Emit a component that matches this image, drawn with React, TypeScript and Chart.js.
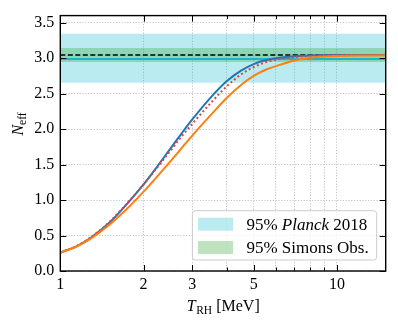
import React, { useEffect, useRef } from "react";
import { Chart, registerables } from "chart.js";

Chart.register(...registerables);

// ---- data ----
const T_RH = [1, 1.15, 1.3, 1.5, 1.75, 2, 2.25, 2.5, 2.75, 3, 3.5, 4, 4.5, 5, 5.5, 6, 7, 8, 9, 10, 12, 15];
const N_BLUE = [0.26, 0.352, 0.478, 0.676, 0.954, 1.22, 1.483, 1.725, 1.944, 2.136, 2.447, 2.677, 2.825, 2.916, 2.97, 3.0, 3.027, 3.038, 3.043, 3.045, 3.045, 3.045];
const N_RED = [0.26, 0.356, 0.486, 0.686, 0.962, 1.22, 1.468, 1.695, 1.9, 2.075, 2.37, 2.605, 2.77, 2.875, 2.94, 2.977, 3.015, 3.033, 3.04, 3.044, 3.045, 3.045];
const N_ORANGE = [0.26, 0.349, 0.467, 0.648, 0.885, 1.118, 1.341, 1.546, 1.736, 1.909, 2.2, 2.443, 2.623, 2.75, 2.833, 2.885, 2.968, 3.007, 3.024, 3.031, 3.037, 3.04];

const X_RANGE = [1, 15];
const Y_RANGE = [0, 3.6];
const X_GRID = [1, 2, 3, 4, 5, 6, 7, 8, 9, 10];
const X_LABELS = [1, 2, 3, 5, 10];
const Y_TICKS = [0, 0.5, 1.0, 1.5, 2.0, 2.5, 3.0, 3.5];

const PLANCK_BAND = [2.655, 3.345];
const PLANCK_CENTRAL = 2.99;
const SIMONS_BAND = [2.945, 3.145];
const N_SM = 3.045;

const LEGEND_LABELS = [
  ["95% ", "Planck", " 2018"],
  ["95% Simons Obs.", "", ""],
];

const FONT = "'Liberation Serif', 'DejaVu Serif', serif";
const CYAN_FILL = "rgba(23,190,207,0.3)";
const GREEN_FILL = "rgba(44,160,44,0.3)";

const pts = (ys: number[]) => T_RH.map((x, i) => ({ x, y: ys[i] }));
const hline = (y: number) => [{ x: X_RANGE[0], y }, { x: X_RANGE[1], y }];

const decorPlugin = {
  id: "decor",
  afterDraw(chart: any) {
    const { ctx, chartArea: a, scales } = chart;
    const xs = scales.x;
    const ys = scales.y;
    ctx.save();
    // inward ticks
    ctx.strokeStyle = "#000";
    ctx.lineWidth = 1;
    ctx.beginPath();
    X_GRID.forEach((v) => {
      const px = Math.round(xs.getPixelForValue(v)) + 0.5;
      const len = X_LABELS.includes(v) ? 6 : 3.5;
      ctx.moveTo(px, a.bottom);
      ctx.lineTo(px, a.bottom - len);
      ctx.moveTo(px, a.top);
      ctx.lineTo(px, a.top + len);
    });
    Y_TICKS.forEach((v) => {
      const py = Math.round(ys.getPixelForValue(v)) + 0.5;
      ctx.moveTo(a.left, py);
      ctx.lineTo(a.left + 6, py);
      ctx.moveTo(a.right, py);
      ctx.lineTo(a.right - 6, py);
    });
    ctx.stroke();
    // frame
    ctx.lineWidth = 1.4;
    ctx.strokeRect(a.left, a.top, a.right - a.left, a.bottom - a.top);

    ctx.fillStyle = "#000";
    ctx.textBaseline = "alphabetic";
    // x title: T_RH [MeV]
    {
      const big = `16px ${FONT}`;
      const bigI = `italic 16px ${FONT}`;
      const small = `11.5px ${FONT}`;
      ctx.font = bigI;
      const wT = ctx.measureText("T").width;
      ctx.font = small;
      const wS = ctx.measureText("RH").width;
      ctx.font = big;
      const wU = ctx.measureText(" [MeV]").width;
      const total = wT + wS + wU;
      let x = (a.left + a.right) / 2 - total / 2;
      const base = 311;
      ctx.font = bigI;
      ctx.fillText("T", x, base);
      x += wT + 0.5;
      ctx.font = small;
      ctx.fillText("RH", x, base + 3);
      x += wS;
      ctx.font = big;
      ctx.fillText(" [MeV]", x, base);
    }
    // y title: N_eff
    {
      const bigI = `italic 16px ${FONT}`;
      const small = `11.5px ${FONT}`;
      ctx.font = bigI;
      const wN = ctx.measureText("N").width;
      ctx.font = small;
      const wS = ctx.measureText("eff").width;
      const total = wN + wS;
      ctx.save();
      ctx.translate(23, 124);
      ctx.rotate(-Math.PI / 2);
      let x = -total / 2;
      ctx.font = bigI;
      ctx.fillText("N", x, 0);
      x += wN;
      ctx.font = small;
      ctx.fillText("eff", x, 3);
      ctx.restore();
    }
    // legend
    {
      const big = `17px ${FONT}`;
      const bigI = `italic 17px ${FONT}`;
      const widths = LEGEND_LABELS.map(([p1, p2, p3]) => {
        ctx.font = big;
        let w = ctx.measureText(p1).width + ctx.measureText(p3).width;
        ctx.font = bigI;
        w += ctx.measureText(p2).width;
        return w;
      });
      const textW = Math.max(...widths);
      const boxW = 5.7 + 35 + 13.3 + textW + 8;
      const boxH = 49.3;
      const bx = a.right - 9 - boxW;
      const by = a.bottom - 11 - boxH;
      const r = 3;
      ctx.beginPath();
      ctx.moveTo(bx + r, by);
      ctx.lineTo(bx + boxW - r, by);
      ctx.quadraticCurveTo(bx + boxW, by, bx + boxW, by + r);
      ctx.lineTo(bx + boxW, by + boxH - r);
      ctx.quadraticCurveTo(bx + boxW, by + boxH, bx + boxW - r, by + boxH);
      ctx.lineTo(bx + r, by + boxH);
      ctx.quadraticCurveTo(bx, by + boxH, bx, by + boxH - r);
      ctx.lineTo(bx, by + r);
      ctx.quadraticCurveTo(bx, by, bx + r, by);
      ctx.closePath();
      ctx.fillStyle = "rgba(255,255,255,0.8)";
      ctx.fill();
      ctx.strokeStyle = "#cccccc";
      ctx.lineWidth = 1;
      ctx.stroke();
      const fills = [CYAN_FILL, GREEN_FILL];
      LEGEND_LABELS.forEach(([p1, p2, p3], i) => {
        const cy = by + 13.5 + i * 23.3;
        ctx.fillStyle = fills[i];
        ctx.fillRect(bx + 5.7, cy - 6.5, 35, 13);
        ctx.fillStyle = "#000";
        let tx = bx + 5.7 + 35 + 13.3;
        const base = cy + 5.5;
        ctx.font = big;
        ctx.fillText(p1, tx, base);
        tx += ctx.measureText(p1).width;
        if (p2) {
          ctx.font = bigI;
          ctx.fillText(p2, tx, base);
          tx += ctx.measureText(p2).width;
        }
        if (p3) {
          ctx.font = big;
          ctx.fillText(p3, tx, base);
        }
      });
    }
    ctx.restore();
  },
};

export default function App() {
  const ref = useRef<HTMLCanvasElement | null>(null);
  useEffect(() => {
    if (!ref.current) return;
    Chart.defaults.font.family = FONT;
    Chart.defaults.font.size = 16;
    Chart.defaults.color = "#000";
    const chart = new Chart(ref.current, {
      type: "line",
      data: {
        datasets: [
          {
            label: "orange",
            data: pts(N_ORANGE),
            borderColor: "#ff7f0e",
            borderWidth: 2,
            pointRadius: 0,
            cubicInterpolationMode: "monotone",
            fill: false,
            order: 0,
          },
          {
            label: "red",
            data: pts(N_RED),
            borderColor: "#e0404a",
            borderWidth: 2,
            borderDash: [2, 2.5],
            pointRadius: 0,
            cubicInterpolationMode: "monotone",
            fill: false,
            order: 1,
          },
          {
            label: "blue",
            data: pts(N_BLUE),
            borderColor: "#1f77b4",
            borderWidth: 2,
            pointRadius: 0,
            cubicInterpolationMode: "monotone",
            fill: false,
            order: 2,
          },
          {
            label: "SM",
            data: hline(N_SM),
            borderColor: "#000",
            borderWidth: 1.5,
            borderDash: [5, 2.5],
            pointRadius: 0,
            fill: false,
            order: 3,
          },
          {
            label: "Planck central",
            data: hline(PLANCK_CENTRAL),
            borderColor: "#1fb5c9",
            borderWidth: 2,
            pointRadius: 0,
            fill: false,
            order: 4,
          },
          {
            label: "Simons top",
            data: hline(SIMONS_BAND[1]),
            borderWidth: 0,
            borderColor: "rgba(0,0,0,0)",
            backgroundColor: GREEN_FILL,
            pointRadius: 0,
            fill: "+1",
            order: 5,
          },
          {
            label: "Simons bottom",
            data: hline(SIMONS_BAND[0]),
            borderWidth: 0,
            borderColor: "rgba(0,0,0,0)",
            pointRadius: 0,
            fill: false,
            order: 6,
          },
          {
            label: "Planck top",
            data: hline(PLANCK_BAND[1]),
            borderWidth: 0,
            borderColor: "rgba(0,0,0,0)",
            backgroundColor: CYAN_FILL,
            pointRadius: 0,
            fill: "+1",
            order: 7,
          },
          {
            label: "Planck bottom",
            data: hline(PLANCK_BAND[0]),
            borderWidth: 0,
            borderColor: "rgba(0,0,0,0)",
            pointRadius: 0,
            fill: false,
            order: 8,
          },
        ],
      },
      options: {
        responsive: false,
        animation: false,
        devicePixelRatio: 1,
        layout: { padding: { left: 0, top: 12.5, right: 12.3, bottom: 0 } },
        plugins: {
          legend: { display: false },
          tooltip: { enabled: false },
          title: { display: false },
        },
        scales: {
          x: {
            type: "logarithmic",
            min: X_RANGE[0],
            max: X_RANGE[1],
            afterBuildTicks: (s: any) => {
              s.ticks = X_GRID.map((v) => ({ value: v }));
            },
            afterFit: (s: any) => {
              s.height = 56;
            },
            ticks: {
              autoSkip: false,
              maxRotation: 0,
              padding: 4,
              font: { size: 16, family: FONT },
              callback: (v: any) => (X_LABELS.includes(Number(v)) ? String(v) : ""),
            },
            grid: { color: "#c4c4c4", lineWidth: 1, drawTicks: false },
            border: { display: false, dash: [1.2, 1.6] },
          },
          y: {
            type: "linear",
            min: Y_RANGE[0],
            max: Y_RANGE[1],
            afterBuildTicks: (s: any) => {
              s.ticks = Y_TICKS.map((v) => ({ value: v }));
            },
            afterFit: (s: any) => {
              s.width = 60.3;
            },
            ticks: {
              padding: 6,
              font: { size: 16, family: FONT },
              callback: (v: any) => Number(v).toFixed(1),
            },
            grid: { color: "#c4c4c4", lineWidth: 1, drawTicks: false },
            border: { display: false, dash: [1.2, 1.6] },
          },
        },
      },
      plugins: [decorPlugin],
    } as any);
    return () => chart.destroy();
  }, []);
  return (
    <canvas
      ref={ref}
      width={398}
      height={327}
      style={{ position: "fixed", left: 0, top: 0, width: 398, height: 327 }}
    />
  );
}
